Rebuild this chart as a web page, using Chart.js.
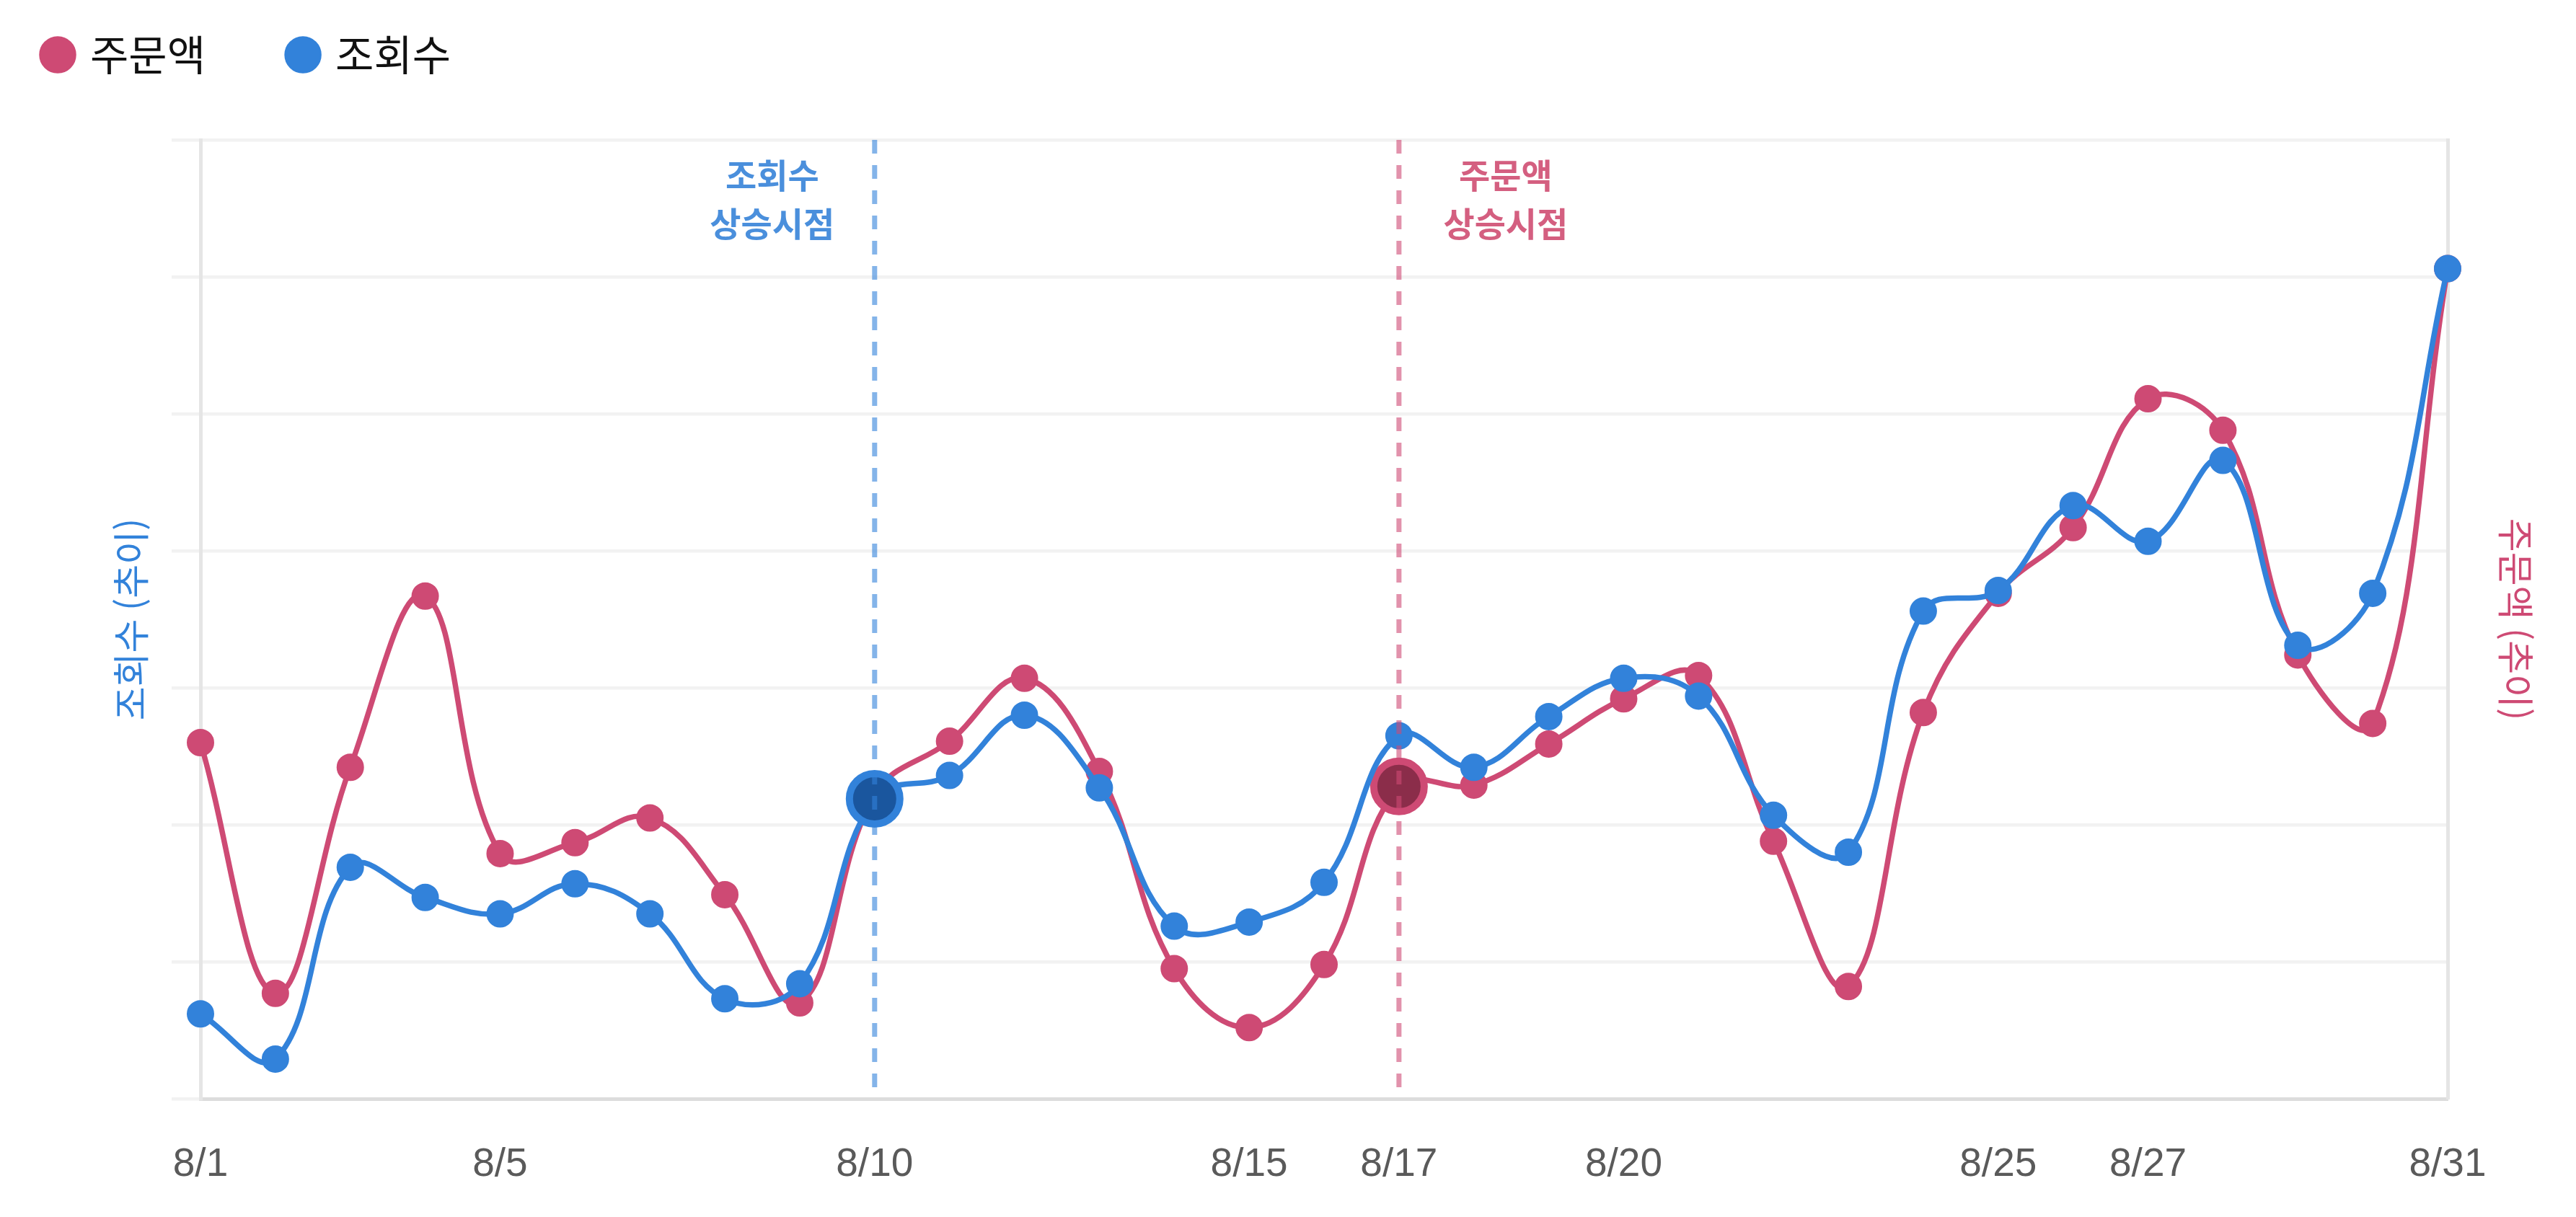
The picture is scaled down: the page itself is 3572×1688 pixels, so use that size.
<!DOCTYPE html>
<html lang="ko">
<head>
<meta charset="utf-8">
<title>조회수 · 주문액 추이</title>
<script src="https://cdn.jsdelivr.net/npm/chart.js@4.4.1/dist/chart.umd.min.js"></script>
<style>
  html, body { margin: 0; padding: 0; background: #ffffff; }
  #wrap { width: 3572px; height: 1688px; }
  canvas { display: block; }
</style>
</head>
<body>
<div id="wrap"><canvas id="c" width="3572" height="1688"></canvas></div>
<script>
// ---- data ----
const days = ['8/1','8/2','8/3','8/4','8/5','8/6','8/7','8/8','8/9','8/10',
              '8/11','8/12','8/13','8/14','8/15','8/16','8/17','8/18','8/19','8/20',
              '8/21','8/22','8/23','8/24','8/25','8/26','8/27','8/28','8/29','8/30','8/31'];
const shownTicks = ['8/1','8/5','8/10','8/15','8/17','8/20','8/25','8/27','8/31'];
const orderTrend = [26.0, 7.7, 24.2, 36.7, 17.9, 18.7, 20.5, 14.9, 7.0, 22.2,
                    26.1, 30.7, 23.9, 9.5, 5.2, 9.8, 22.8, 22.9, 25.9, 29.2,
                    30.9, 18.8, 8.2, 28.2, 36.9, 41.7, 51.1, 48.8, 32.4, 27.4, 60.6];
const viewTrend  = [6.2, 2.9, 16.9, 14.7, 13.5, 15.7, 13.5, 7.3, 8.4, 21.9,
                    23.6, 28.0, 22.7, 12.6, 12.9, 15.8, 26.5, 24.2, 27.9, 30.7,
                    29.4, 20.7, 18.0, 35.6, 37.1, 43.3, 40.7, 46.6, 33.1, 36.9, 60.6];
const seriesNames = ['주문액', '조회수'];
const axisTitles = ['조회수 (추이)', '주문액 (추이)'];
const viewRiseDay = '8/10';
const orderRiseDay = '8/17';
const viewRiseText = ['조회수', '상승시점'];
const orderRiseText = ['주문액', '상승시점'];

// ---- styles ----
const PINK = '#ce4a74';
const BLUE = '#3282da';
const PINK_DARK = '#8b2d4a';
const BLUE_DARK = '#1a569e';
const KR = '"Noto Sans CJK KR", "Noto Sans", sans-serif';

const viewIdx = days.indexOf(viewRiseDay);
const orderIdx = days.indexOf(orderRiseDay);

// legend box height / offset tweak
const legendSpace = {
  id: 'legendSpace',
  afterInit(chart) {
    const lg = chart.legend;
    if (!lg) return;
    const fit = lg.fit;
    lg.fit = function () { fit.call(this); this.height = 194; };
    const draw = lg.draw;
    lg.draw = function () {
      const ctx = this.ctx;
      ctx.save();
      ctx.translate(-55, -72);
      draw.apply(this, arguments);
      ctx.restore();
    };
  }
};

const risePlugin = {
  id: 'riseMarkers',
  afterDatasetsDraw(chart) {
    const {ctx, chartArea, scales} = chart;
    const marks = [
      {idx: viewIdx, line: 'rgba(50,130,218,0.6)', text: viewRiseText, color: '#4a8fdc', dx: -142},
      {idx: orderIdx, line: 'rgba(206,74,116,0.6)', text: orderRiseText, color: '#d45f80', dx: 148}
    ];
    marks.forEach(m => {
      const x = scales.x.getPixelForValue(m.idx);
      ctx.save();
      ctx.strokeStyle = m.line;
      ctx.lineWidth = 7;
      ctx.setLineDash([19, 16]);
      ctx.beginPath();
      ctx.moveTo(x, chartArea.top);
      ctx.lineTo(x, chartArea.bottom);
      ctx.stroke();
      ctx.restore();
      ctx.save();
      ctx.fillStyle = m.color;
      ctx.font = '600 47px ' + KR;
      ctx.textAlign = 'center';
      ctx.textBaseline = 'middle';
      m.text.forEach((t, i) => ctx.fillText(t, x + m.dx, chartArea.top + 49 + i * 67));
      ctx.restore();
    });
  }
};

function pointStyleFor(base, dark, hiIdx) {
  return {
    pointRadius: c => c.dataIndex === hiIdx ? 35 : 18,
    pointBorderWidth: c => c.dataIndex === hiIdx ? 10 : 2,
    pointBackgroundColor: c => c.dataIndex === hiIdx ? dark : base,
    pointBorderColor: base,
    pointHoverRadius: c => c.dataIndex === hiIdx ? 35 : 18
  };
}

new Chart(document.getElementById('c'), {
  type: 'line',
  data: {
    labels: days,
    datasets: [
      Object.assign({
        label: seriesNames[0],
        data: orderTrend,
        yAxisID: 'y1',
        borderColor: PINK,
        backgroundColor: PINK,
        borderWidth: 7.5,
        tension: 0.4,
        clip: false,
        order: 2
      }, pointStyleFor(PINK, PINK_DARK, orderIdx)),
      Object.assign({
        label: seriesNames[1],
        data: viewTrend,
        yAxisID: 'y',
        borderColor: BLUE,
        backgroundColor: BLUE,
        borderWidth: 7.5,
        tension: 0.4,
        clip: false,
        order: 1
      }, pointStyleFor(BLUE, BLUE_DARK, viewIdx))
    ]
  },
  options: {
    responsive: false,
    devicePixelRatio: 1,
    animation: false,
    events: [],
    layout: { padding: 0 },
    plugins: {
      tooltip: { enabled: false },
      legend: {
        position: 'top',
        align: 'start',
        labels: {
          usePointStyle: true,
          pointStyle: 'circle',
          boxHeight: 35,
          boxWidth: 32,
          padding: 119,
          color: '#111111',
          font: { family: KR, size: 58 },
          sort: (a, b) => a.datasetIndex - b.datasetIndex
        }
      }
    },
    scales: {
      x: {
        type: 'category',
        offset: false,
        grid: { display: false, drawTicks: false },
        border: { display: true, color: '#dcdcdc', width: 5 },
        ticks: {
          autoSkip: false,
          maxRotation: 0,
          minRotation: 0,
          padding: 59,
          color: '#5a5a5a',
          font: { family: '"Liberation Sans", Arial, Helvetica, sans-serif', size: 55 },
          callback: function (v) {
            const l = this.getLabelForValue(v);
            return shownTicks.includes(l) ? l : '';
          }
        },
        afterFit: s => { s.height = 164; }
      },
      y: {
        position: 'left',
        min: 0, max: 70,
        ticks: { display: false, stepSize: 10 },
        grid: { color: '#f2f2f2', lineWidth: 4.5, tickLength: 40, drawTicks: true },
        border: { display: true, color: '#e5e5e5', width: 5 },
        title: {
          display: true,
          text: axisTitles[0],
          color: BLUE,
          font: { family: KR, size: 51 },
          padding: { top: 151, bottom: 0 }
        },
        afterFit: s => { s.width = 278; }
      },
      y1: {
        position: 'right',
        min: 0, max: 70,
        ticks: { display: false, stepSize: 10 },
        grid: { display: false, drawOnChartArea: false, drawTicks: false },
        border: { display: true, color: '#e5e5e5', width: 5 },
        title: {
          display: true,
          text: axisTitles[1],
          color: PINK,
          font: { family: KR, size: 51 },
          padding: { top: 53, bottom: 0 }
        },
        afterFit: s => { s.width = 178; }
      }
    }
  },
  plugins: [legendSpace, risePlugin]
});
</script>
</body>
</html>
